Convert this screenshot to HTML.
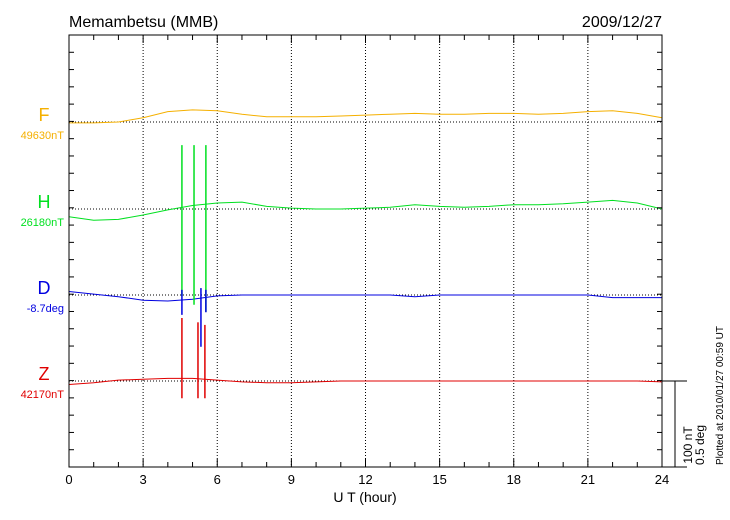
<!DOCTYPE html>
<html><head><meta charset="utf-8"><style>
body{margin:0;background:#fff;width:730px;height:520px;overflow:hidden}
svg{display:block;font-family:"Liberation Sans",sans-serif}
</style></head><body>
<svg id="chart" width="730" height="520" viewBox="0 0 730 520">
<text x="69" y="27" font-size="16">Memambetsu (MMB)</text>
<text x="662" y="27" font-size="16" text-anchor="end">2009/12/27</text>
<text x="365" y="502" font-size="14" text-anchor="middle">U T (hour)</text>
<text transform="translate(723,465) rotate(-90)" font-size="10">Plotted at 2010/01/27 00:59 UT</text>
<text transform="translate(692,445) rotate(-90)" font-size="12" text-anchor="middle">100 nT</text>
<text transform="translate(704,445) rotate(-90)" font-size="12" text-anchor="middle">0.5 deg</text>
<g id="grid"></g><g id="series"></g><g id="axes"></g>
</svg>
<script>
const hours=[0,1,2,3,4,5,6,7,8,9,10,11,12,13,14,15,16,17,18,19,20,21,22,23,24];
const xTicks=[0,3,6,9,12,15,18,21,24];
const seriesNames=["F","H","D","Z"];
const baseLabels=["49630nT","26180nT","-8.7deg","42170nT"];
const colors=["#f5b000","#00e020","#0000e0","#e00000"];
const fVals=[-1,-1,0,5,12,14,13,9,6,6,6,7,8,9,10,9,9,10,10,9,10,12,13,10,5];
const hVals=[-9,-13,-12,-7,-1,4,7,8,3,1,0,0,1,2,5,3,2,3,5,5,6,8,10,7,0];
const dVals=[4,1,-2,-6,-7,-5,-1,0,0,0,0,0,0,0,-2,0,0,0,0,0,0,0,-3,-3,-3];
const zVals=[-4,-2,1,2,3,3,1,-1,-2,-2,-1,0,0,0,0,0,0,0,0,0,0,0,0,0,-1];
const spikeTimes=[[4.57,5.06,5.54],[4.57,5.34,5.54],[4.57,5.22,5.5]];
const spikeTopsH=[74,74,74], spikeBotsH=[-101,-111,-119];
const spikeTopsD=[6,8,6], spikeBotsD=[-23,-60,-20];
const spikeTopsZ=[73,68,65], spikeBotsZ=[-20,-20,-20];
const L=69,R=662,T=35,B=467,pxPerNT=0.863;
const baselines=[122,209,295,381];
const X=h=>L+(R-L)*h/24;
const Y=(i,v)=>baselines[i]-v*pxPerNT;
const NS="http://www.w3.org/2000/svg";
function mk(tag,attrs,parent){const e=document.createElementNS(NS,tag);for(const k in attrs)e.setAttribute(k,attrs[k]);parent.appendChild(e);return e;}
const grid=document.getElementById('grid'),ser=document.getElementById('series'),axes=document.getElementById('axes');
xTicks.slice(1,-1).forEach(h=>{const l=mk('line',{x1:X(h),x2:X(h),y1:T,y2:B,stroke:'#000','stroke-width':1,'stroke-dasharray':'1,2'},grid);

});
baselines.forEach((b,i)=>{const l=mk('line',{x1:L,x2:R,y1:b,y2:b,stroke:'#000','stroke-width':1,'stroke-dasharray':'1,2'},grid);

});
const vals=[fVals,hVals,dVals,zVals];
vals.forEach((arr,i)=>{const pts=arr.map((v,j)=>X(hours[j]).toFixed(1)+','+Y(i,v).toFixed(1)).join(' ');
const p=mk('polyline',{points:pts,fill:'none',stroke:colors[i],'stroke-width':1},ser);


const lab=mk('text',{x:44,y:baselines[i]-1,'font-size':18,fill:colors[i],'text-anchor':'middle'},ser);lab.textContent=seriesNames[i];


const bl=mk('text',{x:64,y:baselines[i]+17,'font-size':11,fill:colors[i],'text-anchor':'end'},ser);bl.textContent=baseLabels[i];

});
const spikes=[[1,spikeTopsH,spikeBotsH],[2,spikeTopsD,spikeBotsD],[3,spikeTopsZ,spikeBotsZ]];
spikes.forEach(([i,tops,bots],k)=>{spikeTimes[k].forEach((t,j)=>{const l=mk('line',{x1:X(t),x2:X(t),y1:Y(i,tops[j]),y2:Y(i,bots[j]),stroke:colors[i],'stroke-width':1.5},ser);

});});
const fr=mk('rect',{x:L,y:T,width:R-L,height:B-T,fill:'none',stroke:'#000','stroke-width':1},axes);


for(let h=0;h<=24;h++){const len=h%3===0?8:5;
mk('line',{x1:X(h),x2:X(h),y1:B,y2:B-len,stroke:'#000'},axes);
mk('line',{x1:X(h),x2:X(h),y1:T,y2:T+len,stroke:'#000'},axes);}
for(let k=1;k<25;k++){const y=T+k*(B-T)/25;
mk('line',{x1:L,x2:L+5,y1:y,y2:y,stroke:'#000'},axes);
mk('line',{x1:R,x2:R-5,y1:y,y2:y,stroke:'#000'},axes);}
xTicks.forEach(h=>{const t=mk('text',{x:X(h),y:B+17,'font-size':13,'text-anchor':'middle'},axes);t.textContent=h;

});
const sb=mk('path',{d:`M${R} ${baselines[3]}H687M675 ${baselines[3]}V${baselines[3]+100*pxPerNT}M662 ${B}H687`,stroke:'#000',fill:'none'},axes);


</script>
</body></html>
